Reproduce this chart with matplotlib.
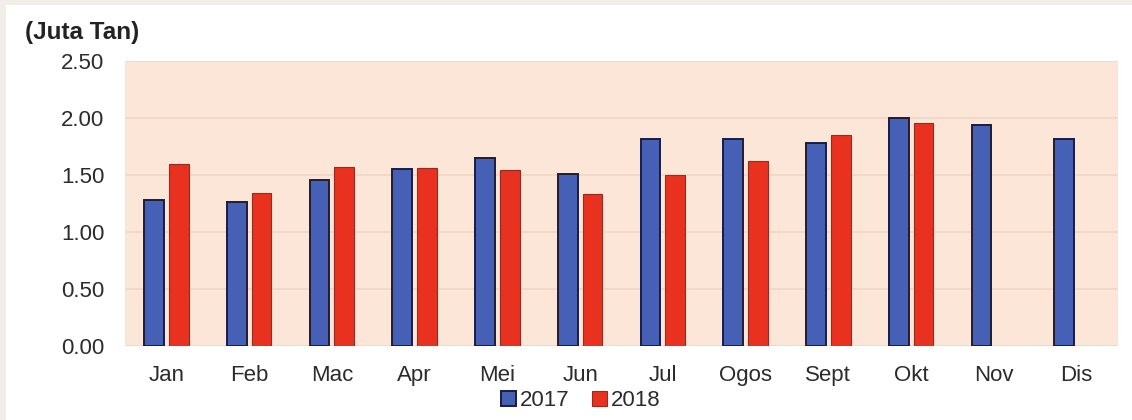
import matplotlib.pyplot as plt
import numpy as np

plt.rcParams['font.family'] = ['Liberation Sans', 'DejaVu Sans']

months = ['Jan', 'Feb', 'Mac', 'Apr', 'Mei', 'Jun', 'Jul', 'Ogos', 'Sept', 'Okt', 'Nov', 'Dis']
val_2017 = [1.28, 1.26, 1.46, 1.55, 1.65, 1.51, 1.82, 1.82, 1.78, 2.00, 1.94, 1.82]
val_2018 = [1.60, 1.34, 1.57, 1.56, 1.54, 1.33, 1.50, 1.62, 1.85, 1.96]
yticks = [0.0, 0.5, 1.0, 1.5, 2.0, 2.5]

blue = '#4560b4'
red = '#e8321f'

fig = plt.figure(figsize=(11.32, 4.2), dpi=100)
fig.patch.set_facecolor('#f1eee8')

# white panel behind the chart
bg = fig.add_axes([6 / 1132, 0, 1, 415 / 420], zorder=-1)
bg.set_facecolor('white')
bg.axis('off')
bg.add_patch(plt.Rectangle((0, 0), 1, 1, transform=bg.transAxes,
                           facecolor='white', edgecolor='none'))

ax = fig.add_axes([125 / 1132, 74 / 420, 993 / 1132, 285 / 420])
ax.set_facecolor('#fbe6d7')

x = np.arange(len(months))
w = 0.24
off = 0.15
ax.bar(x - off, val_2017, w, color=blue, edgecolor='#1c1c3a', linewidth=1.4,
       label='2017', zorder=3)
ax.bar(x[:len(val_2018)] + off, val_2018, w, color=red, edgecolor='#9a2a20',
       linewidth=0.8, label='2018', zorder=3)

ax.set_xlim(-0.5, len(months) - 0.5)
ax.set_ylim(0, 2.5)
ax.set_yticks(yticks)
ax.set_yticklabels(['%.2f' % v for v in yticks])
ax.set_xticks(x)
ax.set_xticklabels(months)
ax.tick_params(axis='both', length=0, labelsize=16, colors='#2b2b2b')
ax.tick_params(axis='y', pad=15)
ax.tick_params(axis='x', pad=14)
ax.grid(axis='y', color='#f0d6c4', linewidth=1.2, zorder=1)
for s in ax.spines.values():
    s.set_visible(False)

fig.text(25 / 1132, (420 - 33) / 420, '(Juta Tan)', fontsize=17.5, fontweight='bold',
         color='#222222', va='center', ha='left')

fig.legend(loc='center', bbox_to_anchor=(581 / 1132, 19 / 420), ncol=2, frameon=False,
           fontsize=16, handlelength=0.65, handleheight=0.65, handletextpad=0.2,
           columnspacing=1.0, labelcolor='#2b2b2b')

fig.savefig('out.png', dpi=100, facecolor=fig.get_facecolor())
